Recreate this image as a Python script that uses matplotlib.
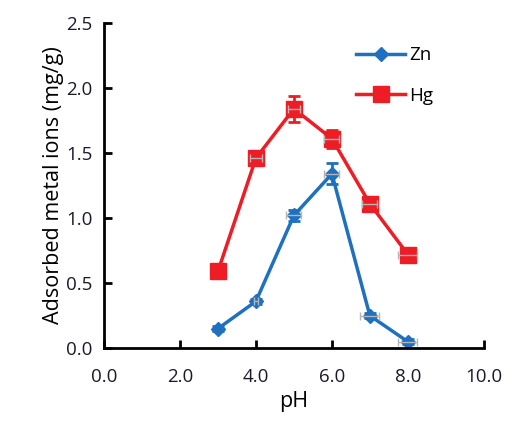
import matplotlib.pyplot as plt
from matplotlib.lines import Line2D

plt.rcParams['font.family'] = ['Open Sans', 'DejaVu Sans']

ph = [3.0, 4.0, 5.0, 6.0, 7.0, 8.0]
zn = [0.15, 0.36, 1.02, 1.34, 0.25, 0.05]
hg = [0.59, 1.46, 1.84, 1.61, 1.11, 0.72]
zn_yerr = [0.02, 0.02, 0.04, 0.08, 0.02, 0.02]
hg_yerr = [0.02, 0.05, 0.10, 0.07, 0.03, 0.02]
zn_xerr = [0.0, 0.05, 0.2, 0.2, 0.25, 0.25]
hg_xerr = [0.0, 0.15, 0.15, 0.2, 0.2, 0.25]

blue = '#1F70BE'
red = '#EE1C25'

fig = plt.figure(figsize=(5.12, 4.32), dpi=100)
ax = fig.add_axes([0.203, 0.194, 0.742, 0.753])

ax.errorbar(ph, zn, yerr=zn_yerr, color=blue, marker='D', markersize=7, lw=2.5,
            elinewidth=2, capsize=4, capthick=2, zorder=2)
ax.errorbar(ph, hg, yerr=hg_yerr, color=red, marker='s', markersize=11, lw=2.5,
            elinewidth=2, capsize=4, capthick=2, zorder=2)

# gray horizontal error bars, drawn over the markers
ax.errorbar(ph[1:], zn[1:], xerr=zn_xerr[1:], fmt='none', ecolor='#b5b5b5', elinewidth=1, capsize=3, zorder=3)
ax.errorbar(ph[1:], hg[1:], xerr=hg_xerr[1:], fmt='none', ecolor='#b5b5b5', elinewidth=1, capsize=3, zorder=3)

ax.set_xlim(0, 10)
ax.set_ylim(0, 2.5)
ax.set_xticks([0, 2, 4, 6, 8, 10])
ax.set_xticklabels(['0.0', '2.0', '4.0', '6.0', '8.0', '10.0'])
ax.set_yticks([0, 0.5, 1.0, 1.5, 2.0, 2.5])
ax.set_yticklabels(['0.0', '0.5', '1.0', '1.5', '2.0', '2.5'])
ax.tick_params(direction='in', length=6, width=2, labelsize=13.5, pad=8, labelcolor='#1a1a2a')
ax.tick_params(axis='x', pad=14)

for s in ['top', 'right']:
    ax.spines[s].set_visible(False)
for s in ['left', 'bottom']:
    ax.spines[s].set_linewidth(2)

ax.set_xlabel('pH', fontsize=15.5, labelpad=4)
ax.set_ylabel('Adsorbed metal ions (mg/g)', fontsize=15.5, labelpad=2)

handles = [Line2D([], [], color=blue, marker='D', markersize=7, lw=2.5),
           Line2D([], [], color=red, marker='s', markersize=11, lw=2.5)]
ax.legend(handles, ['Zn', 'Hg'], loc='upper left', bbox_to_anchor=(0.62, 0.98), frameon=False,
          fontsize=13.5, handlelength=2.6, labelspacing=1.2, handletextpad=0.2)

fig.savefig('out.png')
